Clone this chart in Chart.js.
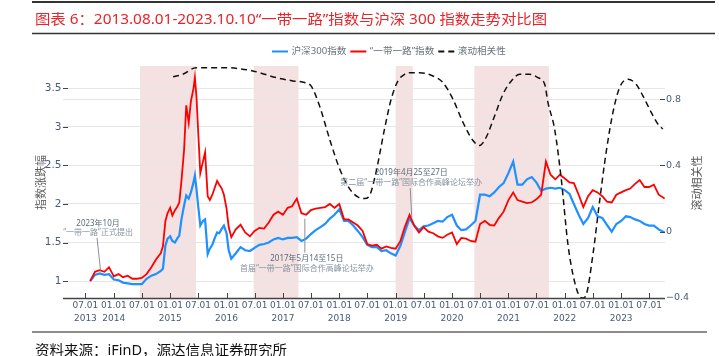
<!DOCTYPE html>
<html><head><meta charset="utf-8">
<script src="https://cdn.jsdelivr.net/npm/chart.js@4.4.0/dist/chart.umd.min.js"></script>
<style>html,body{margin:0;padding:0;background:#fff;}#wrap{width:719px;height:356px;position:relative;}</style>
</head><body><div id="wrap"><canvas id="c" width="719" height="356"></canvas></div>
<script>
// ---------- data ----------
const dates = ['2013-08-01','2013-09-01','2013-10-01','2013-11-01','2013-12-01',
'2014-01-01','2014-02-01','2014-03-01','2014-04-01','2014-05-01','2014-06-01','2014-07-01','2014-08-01','2014-09-01','2014-10-01','2014-11-01','2014-11-15','2014-12-01','2014-12-15',
'2015-01-01','2015-01-15','2015-02-01','2015-02-15','2015-03-01','2015-03-15','2015-04-01','2015-04-15','2015-05-01','2015-05-15','2015-06-01','2015-06-10','2015-06-20','2015-07-01','2015-07-15','2015-08-01','2015-08-15','2015-09-01','2015-09-15','2015-10-01','2015-10-15','2015-11-01','2015-11-15','2015-12-01','2015-12-15',
'2016-01-01','2016-01-15','2016-02-01','2016-03-01','2016-04-01','2016-05-01','2016-06-01','2016-07-01','2016-08-01','2016-09-01','2016-10-01','2016-11-01','2016-12-01',
'2017-01-01','2017-02-01','2017-03-01','2017-04-01','2017-05-01','2017-06-01','2017-07-01','2017-08-01','2017-09-01','2017-10-01','2017-11-01','2017-12-01',
'2018-01-01','2018-02-01','2018-03-01','2018-04-01','2018-05-01','2018-06-01','2018-07-01','2018-08-01','2018-09-01','2018-10-01','2018-11-01','2018-12-01',
'2019-01-01','2019-02-01','2019-03-01','2019-04-01','2019-05-01','2019-06-01','2019-07-01','2019-08-01','2019-09-01','2019-10-01','2019-11-01','2019-12-01',
'2020-01-01','2020-02-01','2020-03-01','2020-04-01','2020-05-01','2020-06-01','2020-07-01','2020-08-01','2020-09-01','2020-10-01','2020-11-01','2020-12-01',
'2021-01-01','2021-02-01','2021-03-01','2021-04-01','2021-05-01','2021-06-01','2021-07-01','2021-08-01','2021-09-01','2021-10-01','2021-11-01','2021-12-01',
'2022-01-01','2022-02-01','2022-03-01','2022-04-01','2022-05-01','2022-06-01','2022-07-01','2022-08-01','2022-09-01','2022-10-01','2022-11-01','2022-12-01',
'2023-01-01','2023-02-01','2023-03-01','2023-04-01','2023-05-01','2023-06-01','2023-07-01','2023-08-01','2023-09-01','2023-10-10'];
const hs300 = [1.00,1.08,1.10,1.08,1.09,
1.02,1.01,0.98,0.97,0.96,0.96,0.96,1.03,1.07,1.09,1.13,1.16,1.46,1.55,
1.58,1.52,1.50,1.55,1.59,1.80,1.98,2.11,2.07,2.15,2.28,2.37,2.20,1.98,1.72,1.78,1.80,1.35,1.42,1.47,1.55,1.63,1.62,1.68,1.72,
1.62,1.40,1.29,1.36,1.44,1.40,1.39,1.43,1.47,1.48,1.50,1.54,1.56,
1.54,1.56,1.56,1.57,1.52,1.55,1.61,1.66,1.70,1.74,1.81,1.86,
1.93,1.78,1.78,1.72,1.65,1.57,1.47,1.44,1.44,1.39,1.40,1.36,
1.33,1.46,1.63,1.82,1.72,1.66,1.71,1.72,1.75,1.78,1.77,1.83,
1.86,1.72,1.66,1.67,1.72,1.78,2.12,2.12,2.10,2.15,2.22,2.27,
2.40,2.55,2.25,2.25,2.32,2.35,2.28,2.17,2.20,2.21,2.20,2.21,
2.18,2.13,2.00,1.86,1.74,1.82,1.96,1.84,1.82,1.73,1.64,1.74,
1.78,1.84,1.83,1.80,1.78,1.74,1.72,1.72,1.67,1.63];
const ydyl = [1.00,1.12,1.14,1.12,1.18,
1.06,1.09,1.05,1.07,1.03,1.03,1.04,1.09,1.18,1.28,1.36,1.45,1.78,1.88,
1.95,1.85,1.92,1.96,2.02,2.30,2.70,3.28,3.05,3.33,3.50,3.64,3.40,2.95,2.40,2.55,2.67,2.10,2.05,2.12,2.20,2.30,2.25,2.20,2.12,
1.94,1.70,1.57,1.67,1.73,1.63,1.58,1.65,1.69,1.68,1.76,1.86,1.90,
1.86,1.95,1.97,2.07,1.88,1.86,1.92,1.94,1.95,1.96,2.00,1.95,
2.00,1.80,1.80,1.76,1.72,1.65,1.48,1.46,1.47,1.42,1.45,1.43,
1.42,1.52,1.70,1.86,1.72,1.63,1.70,1.64,1.62,1.58,1.56,1.60,
1.63,1.48,1.56,1.55,1.52,1.51,1.74,1.78,1.73,1.72,1.82,1.90,
2.05,2.15,2.05,2.03,2.01,2.02,2.06,2.12,2.55,2.38,2.32,2.38,
2.33,2.28,2.27,2.12,1.96,2.10,2.18,2.15,2.10,2.03,2.02,2.12,
2.15,2.18,2.20,2.26,2.31,2.22,2.22,2.25,2.12,2.07];
const corrDates = ['2015-01-20','2015-03-23','2015-06-18','2015-12-20','2016-06-20','2016-11-18','2017-03-07','2017-05-21','2017-07-02','2017-08-26','2017-10-30',
'2018-01-03','2018-03-08','2018-05-01','2018-06-13','2018-07-17','2018-08-27','2018-10-21','2018-12-03','2019-01-16','2019-02-28','2019-04-01','2019-06-05','2019-08-30','2019-11-03',
'2020-01-07','2020-03-12','2020-05-16','2020-06-28','2020-08-10','2020-10-04','2020-11-27','2021-01-20','2021-03-15','2021-05-18','2021-07-11','2021-08-24','2021-09-14','2021-10-27','2021-12-09',
'2022-01-22','2022-03-05','2022-04-07','2022-04-28','2022-05-20','2022-07-02','2022-08-14','2022-09-26','2022-11-09','2022-12-22','2023-02-14','2023-04-08','2023-05-22','2023-07-15','2023-08-27','2023-09-28'];
const corr = [0.935,0.95,0.99,0.99,0.97,0.93,0.91,0.90,0.88,0.76,0.56,
0.38,0.26,0.21,0.20,0.22,0.36,0.62,0.80,0.91,0.95,0.96,0.96,0.94,0.90,
0.80,0.66,0.55,0.52,0.57,0.70,0.83,0.91,0.95,0.95,0.93,0.89,0.78,0.62,0.32,
-0.08,-0.30,-0.39,-0.40,-0.38,-0.14,0.18,0.48,0.72,0.87,0.92,0.89,0.82,0.72,0.65,0.62];
const bandStarts = ['2014-06-20','2016-06-25','2019-01-01','2020-05-25'];
const bandEnds   = ['2015-06-17','2017-04-12','2019-04-22','2021-09-20'];
const xTickDates = ['2013-07-01','2014-01-01','2014-07-01','2015-01-01','2015-07-01','2016-01-01','2016-07-01','2017-01-01','2017-07-01','2018-01-01','2018-07-01',
'2019-01-01','2019-07-01','2020-01-01','2020-07-01','2021-01-01','2021-07-01','2022-01-01','2022-07-01','2023-01-01','2023-07-01'];
const leftTicks = [1, 1.5, 2, 2.5, 3, 3.5];
const rightTicks = [-0.4, 0, 0.4, 0.8];
const seriesNames = ['沪深300指数', '“一带一路”指数', '滚动相关性'];
const titleText = '图表 6：2013.08.01-2023.10.10“一带一路”指数与沪深 300 指数走势对比图';
const sourceText = '资料来源：iFinD，源达信息证券研究所';
const leftTitle = '指数涨跌幅', rightTitle = '滚动相关性';
const annotations = [
  {date:'2013-10-07', value:1.14, lines:['2023年10月','“一带一路”正式提出'], dx:-2.5, dy1:-47, dy2:-37.5, side:'above'},
  {date:'2017-05-23', value:1.81, lines:['2017年5月14至15日','首届“一带一路”国际合作高峰论坛举办'], dx:2, dy1:40, dy2:50, side:'below'},
  {date:'2019-04-15', value:1.83, lines:['2019年4月25至27日','第二届“一带一路”国际合作高峰论坛举办'], dx:-0.5, dy1:-44, dy2:-34, side:'above'}
];

function toYear(s){const p=s.split('-').map(Number);const a=Date.UTC(p[0],0,1),b=Date.UTC(p[0]+1,0,1);return p[0]+(Date.UTC(p[0],p[1]-1,p[2])-a)/(b-a);}

const BLUE='rgb(30,144,255)', RED='rgb(255,0,0)', DASH='#111';
const TICKC='#4a5a78', CJK='"Noto Sans","Noto Sans CJK SC",sans-serif';

function fitText(ctx, txt, x, y, w){
  const m=ctx.measureText(txt).width; ctx.save(); ctx.translate(x,y); ctx.scale(w/m,1); ctx.fillText(txt,0,0); ctx.restore();
}

const deco = {
  id:'deco',
  beforeDraw(chart){
    const {ctx, chartArea:a, scales:{x}} = chart;
    ctx.save();
    ctx.fillStyle='#f3e2e1';
    bandStarts.forEach((s,i)=>{
      const x0=x.getPixelForValue(toYear(s)), x1=x.getPixelForValue(toYear(bandEnds[i]));
      ctx.fillRect(x0,a.top,x1-x0,a.bottom-a.top);
    });
    ctx.restore();
  },
  afterDatasetsDraw(chart){
    const {ctx, scales:{x,y}} = chart;
    ctx.save();
    annotations.forEach(an=>{
      const px=x.getPixelForValue(toYear(an.date)), py=y.getPixelForValue(an.value);
      const tx=px+an.dx;
      ctx.strokeStyle='#8a8f96'; ctx.lineWidth=1;
      ctx.beginPath();
      if(an.side==='above'){ctx.moveTo(tx-1,py+an.dy2+5);} else {ctx.moveTo(px,py+an.dy1-6);}
      ctx.lineTo(px,py); ctx.stroke();
      ctx.textAlign='center'; ctx.textBaseline='middle';
      ctx.font='8px '+CJK; ctx.fillStyle='#5e6b7c';
      ctx.fillText(an.lines[0],tx,py+an.dy1);
      ctx.fillStyle='#8793a0';
      ctx.fillText(an.lines[1],tx,py+an.dy2);
    });
    ctx.restore();
  },
  afterDraw(chart){
    const {ctx, chartArea:a, scales:{x,y,y1}} = chart;
    ctx.save();
    ctx.strokeStyle='#444'; ctx.lineWidth=1.5;
    ctx.beginPath(); ctx.moveTo(a.left,a.bottom+0.5); ctx.lineTo(a.right,a.bottom+0.5); ctx.stroke();
    ctx.lineWidth=1; ctx.strokeStyle='#444';
    x.ticks.forEach(t=>{const p=Math.round(x.getPixelForValue(t.value))+0.5;ctx.beginPath();ctx.moveTo(p,a.bottom);ctx.lineTo(p,a.bottom-5);ctx.stroke();});
    y.ticks.forEach(t=>{const p=Math.round(y.getPixelForValue(t.value))+0.5;ctx.beginPath();ctx.moveTo(a.left,p);ctx.lineTo(a.left+5,p);ctx.stroke();});
    y1.ticks.forEach(t=>{const p=Math.round(y1.getPixelForValue(t.value))+0.5;ctx.beginPath();ctx.moveTo(a.right-5,p);ctx.lineTo(a.right,p);ctx.stroke();});
    // header
    ctx.strokeStyle='#333'; ctx.lineWidth=2;
    ctx.beginPath(); ctx.moveTo(32,2); ctx.lineTo(715,2); ctx.stroke();
    ctx.lineWidth=1.5;
    ctx.beginPath(); ctx.moveTo(32,33.5); ctx.lineTo(715,33.5); ctx.stroke();
    ctx.strokeStyle='#8c8c8c'; ctx.lineWidth=2;
    ctx.beginPath(); ctx.moveTo(32,332); ctx.lineTo(707,332); ctx.stroke();
    ctx.fillStyle='#e8242b'; ctx.font='14px '+CJK; ctx.textAlign='left'; ctx.textBaseline='middle';
    fitText(ctx,titleText,35,20,512);
    ctx.fillStyle='#111'; ctx.font='14px '+CJK;
    fitText(ctx,sourceText,35,351.5,252);
    // legend
    ctx.font='9.6px '+CJK; ctx.textBaseline='middle';
    let lx=272; const ly=51.5;
    chart.data.datasets.forEach((ds,i)=>{
      ctx.strokeStyle=ds.borderColor; ctx.lineWidth=2; ctx.setLineDash(ds.borderDash||[]);
      ctx.beginPath(); ctx.moveTo(lx,ly); ctx.lineTo(lx+16,ly); ctx.stroke(); ctx.setLineDash([]);
      lx+=19.5; ctx.fillStyle='#6a737e'; ctx.fillText(seriesNames[i],lx,ly);
      lx+=ctx.measureText(seriesNames[i]).width+4;
    });
    ctx.fillStyle='#5a5a5a'; ctx.font='11px '+CJK; ctx.textAlign='center';
    ctx.translate(41.5,182.5); ctx.rotate(-Math.PI/2); ctx.fillText(leftTitle,0,0);
    ctx.setTransform(1,0,0,1,0,0);
    ctx.translate(698,183); ctx.rotate(-Math.PI/2); ctx.fillText(rightTitle,0,0);
    ctx.restore();
  }
};

function xLabel(v,i){
  const d=xTickDates[i]; if(!d) return '';
  const p=d.split('-');
  if(p[1]==='01') return ['01.01',p[0]];
  if(i===0) return ['07.01',p[0]];
  return '07.01';
}

new Chart(document.getElementById('c'),{
  type:'line',
  data:{datasets:[
    {label:seriesNames[0], data:dates.map((d,i)=>({x:toYear(d),y:hs300[i]})), borderColor:BLUE, borderWidth:2.2, yAxisID:'y', order:2, pointRadius:0, tension:0},
    {label:seriesNames[1], data:dates.map((d,i)=>({x:toYear(d),y:ydyl[i]})), borderColor:RED, borderWidth:1.8, yAxisID:'y', order:1, pointRadius:0, tension:0},
    {label:seriesNames[2], data:corrDates.map((d,i)=>({x:toYear(d),y:corr[i]})), borderColor:DASH, borderWidth:1.5, borderDash:[6,4], yAxisID:'y1', order:0, pointRadius:0, cubicInterpolationMode:'monotone'}
  ]},
  options:{
    responsive:false, animation:false, devicePixelRatio:1,
    layout:{padding:{top:66,left:0,right:0,bottom:0}},
    plugins:{legend:{display:false}, tooltip:{enabled:false}},
    scales:{
      x:{type:'linear', min:toYear('2013-02-06'), max:toYear('2023-10-12'),
        afterBuildTicks:s=>{s.ticks=xTickDates.map(d=>({value:toYear(d)}));},
        afterFit:s=>{s.height=58;},
        grid:{display:false, drawTicks:false}, border:{display:false},
        ticks:{autoSkip:false, maxRotation:0, minRotation:0, padding:1.5, color:TICKC, font:{family:'"DejaVu Sans"', size:9, lineHeight:1.4}, callback:xLabel}},
      y:{position:'left', min:0.78, max:3.79,
        afterBuildTicks:s=>{s.ticks=leftTicks.map(v=>({value:v}));},
        afterFit:s=>{s.width=63;},
        grid:{color:'#e6e6e6', drawTicks:false, lineWidth:1}, border:{display:false},
        ticks:{padding:1.5, color:TICKC, font:{family:'"DejaVu Sans"', size:10.5}, callback:v=>String(v)}},
      y1:{position:'right', min:-0.4, max:1.0,
        afterBuildTicks:s=>{s.ticks=rightTicks.map(v=>({value:v}));},
        afterFit:s=>{s.width=54;},
        grid:{drawTicks:false, color:c=>(c.tick&&c.tick.value===0.8)?'#e6e6e6':'rgba(0,0,0,0)'}, border:{display:false},
        ticks:{padding:1, color:TICKC, font:{family:'"DejaVu Sans"', size:9.5}, callback:v=>v<0?'−'+Math.abs(v):String(v)}}
    }
  },
  plugins:[deco]
});
</script></body></html>
